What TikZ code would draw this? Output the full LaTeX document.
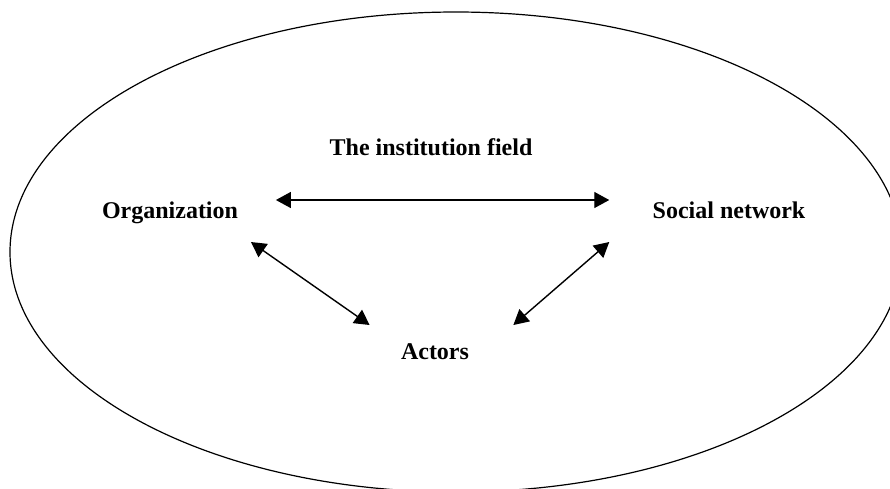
\documentclass[tikz,border=0pt]{standalone}
\usepackage{fontspec}
\setmainfont{Liberation Serif}
\usepackage{tikz}
\usetikzlibrary{arrows.meta}
\tikzset{
    field-label/.style = {inner sep=0pt, anchor=base, font=\fontsize{12}{14}\selectfont\bfseries},
    link-arrow/.style = {line width=0.7pt, {Triangle[length=7.5pt, width=8pt]}-{Triangle[length=7.5pt, width=8pt]}},
}

\begin{document}
\begin{tikzpicture}[x=0.5pt, y=-0.5pt]
\useasboundingbox (0,0) rectangle (890,488);
\draw[line width=0.6pt] (456,252) ellipse [x radius=223pt, y radius=120pt];
\node[field-label] (field) at (431,155) {The institution field};
\node[field-label] (org) at (170,218) {Organization};
\node[field-label] (soc) at (729,218) {Social network};
\node[field-label] (act) at (435,359) {Actors};
\draw[link-arrow] ([shift={(37.5,-18)}]org.base east) -- ([shift={(-43,-18)}]soc.base west);
\draw[link-arrow] ([shift={(12.5,24)}]org.base east) -- ([shift={(-31,-34)}]act.base west);
\draw[link-arrow] ([shift={(-43,24)}]soc.base west) -- ([shift={(44,-34)}]act.base east);
\end{tikzpicture}
\end{document}
